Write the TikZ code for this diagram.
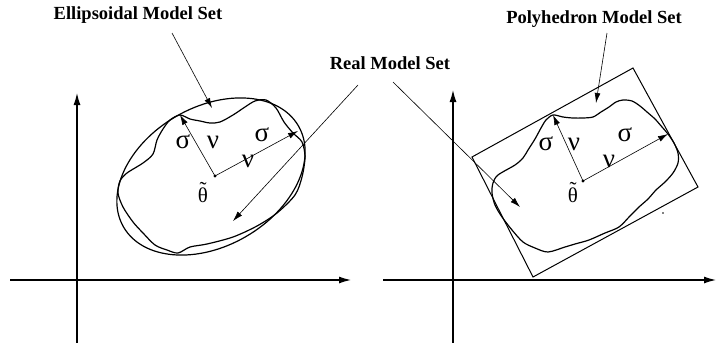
\documentclass[tikz,border=0pt]{standalone}
\usepackage{fontspec}
\setmainfont{Liberation Serif}
\usetikzlibrary{arrows.meta}
\newcommand{\tildetheta}{\ooalign{θ\cr\hidewidth\raisebox{0.30em}{\symbol{"02DC}}\hidewidth\cr}}
\begin{document}
\begin{tikzpicture}[x=1pt,y=-1pt,
  lab/.style={font=\fontsize{18.5}{20}\selectfont\bfseries, inner sep=0pt},
  gk/.style={font=\fontsize{27}{29}\selectfont, inner sep=0pt},
  th/.style={font=\fontsize{21}{23}\selectfont, inner sep=0pt},
  axis/.style={line width=1.2pt,-{Latex[length=12pt,width=7pt]}},
  ptr/.style={line width=0.6pt,-{Latex[length=10pt,width=6pt]}},
  setline/.style={line width=1.2pt}]
\useasboundingbox (0,0) rectangle (716,343);

% ---------- left panel ----------
\coordinate (LYb) at (77,343);
\coordinate (LYt) at (77,93);
\coordinate (LXl) at (10,280);
\coordinate (LXr) at (351,280);
\draw[axis] (LYb) -- (LYt);
\draw[axis] (LXl) -- (LXr);

\draw[setline, rotate around={30:(211,176.5)}] (211,176.5) ellipse [x radius=101, y radius=69.5];

\draw[line width=1.2pt] plot[smooth cycle, tension=0.5] coordinates {
 (180,115) (190,119) (200,121) (210,123) (220,122) (233,115) (245,107) (255,101)
 (266,100) (276,108) (284,122) (293,133) (302,142) (305,157) (302,177) (295,195)
 (277,213) (257,226) (233,237) (207,244) (190,247) (178,253) (167,250) (155,245)
 (143,233) (133,222) (123,207) (118,193) (120,181) (127,173) (143,163) (153,154)
 (157,140) (163,129) (170,120)};

\coordinate (LC) at (215,176);
\coordinate (LS1) at (180,115);
\coordinate (LS2) at (298,131);
\fill (LC) circle (1.7);
\draw[ptr] (LC) -- (LS1);
\draw[ptr] (LC) -- (LS2);

\node[gk] (ls1) at (183,142) {σ};
\node[gk] (ln1) at (213,142) {ν};
\node[gk] (ls2) at (262,135) {σ};
\node[gk] (ln2) at (248,161) {ν};
\node[th] (lth) at (203,195) {\tildetheta};

\node[lab] (ell) at (138,15) {Ellipsoidal Model Set};
\coordinate (ellS) at (172,33);
\coordinate (ellE) at (212,108);
\draw[ptr] (ellS) -- (ellE);

% ---------- real model set ----------
\node[lab] (real) at (390,63) {Real Model Set};
\coordinate (rS1) at (358,85);
\coordinate (rE1) at (233,221);
\coordinate (rS2) at (393,82);
\coordinate (rE2) at (520,207);
\draw[ptr] (rS1) -- (rE1);
\draw[ptr] (rS2) -- (rE2);

% ---------- right panel ----------
\coordinate (RYb) at (453,343);
\coordinate (RYt) at (453,90);
\coordinate (RXl) at (383,280);
\coordinate (RXr) at (716,280);
\draw[axis] (RYb) -- (RYt);
\draw[axis] (RXl) -- (RXr);

\coordinate (P1) at (472,157);
\coordinate (P2) at (633,68);
\coordinate (P3) at (698,187);
\coordinate (P4) at (533,277);
\draw[line width=1.0pt] (P1) -- (P2) -- (P3) -- (P4) -- cycle;

\draw[line width=1.2pt] plot[smooth cycle, tension=0.5] coordinates {
 (553,115) (563,117) (573,118) (583,118) (593,117) (601,112) (609,107) (616,102)
 (623,100) (632,101) (640,106) (647,112) (655,119) (662,127) (668,134) (674,143)
 (678,153) (678,163) (673,173) (665,182) (656,190) (648,199) (639,207) (630,216)
 (619,227) (605,233) (589,240) (575,244) (565,247) (548,252) (535,248) (523,242)
 (512,230) (502,217) (495,205) (492,193) (493,183) (498,175) (515,165) (523,158)
 (528,150) (535,139) (541,128) (546,120)};

\coordinate (RC) at (583,181);
\coordinate (RS1) at (553,115);
\coordinate (RS2) at (668,134);
\fill (RC) circle (1.7);
\draw[ptr] (RC) -- (RS1);
\draw[ptr] (RC) -- (RS2);

\node[gk] (rs1) at (546,144) {σ};
\node[gk] (rn1) at (574,144) {ν};
\node[gk] (rs2) at (625,135) {σ};
\node[gk] (rn2) at (609,161) {ν};
\node[th] (rth) at (573,195) {\tildetheta};

\node[lab] (poly) at (594,19) {Polyhedron Model Set};
\coordinate (polS) at (607,33);
\coordinate (polE) at (596,103);
\draw[ptr] (polS) -- (polE);

\fill (663,213) circle (0.8);
\end{tikzpicture}
\end{document}
